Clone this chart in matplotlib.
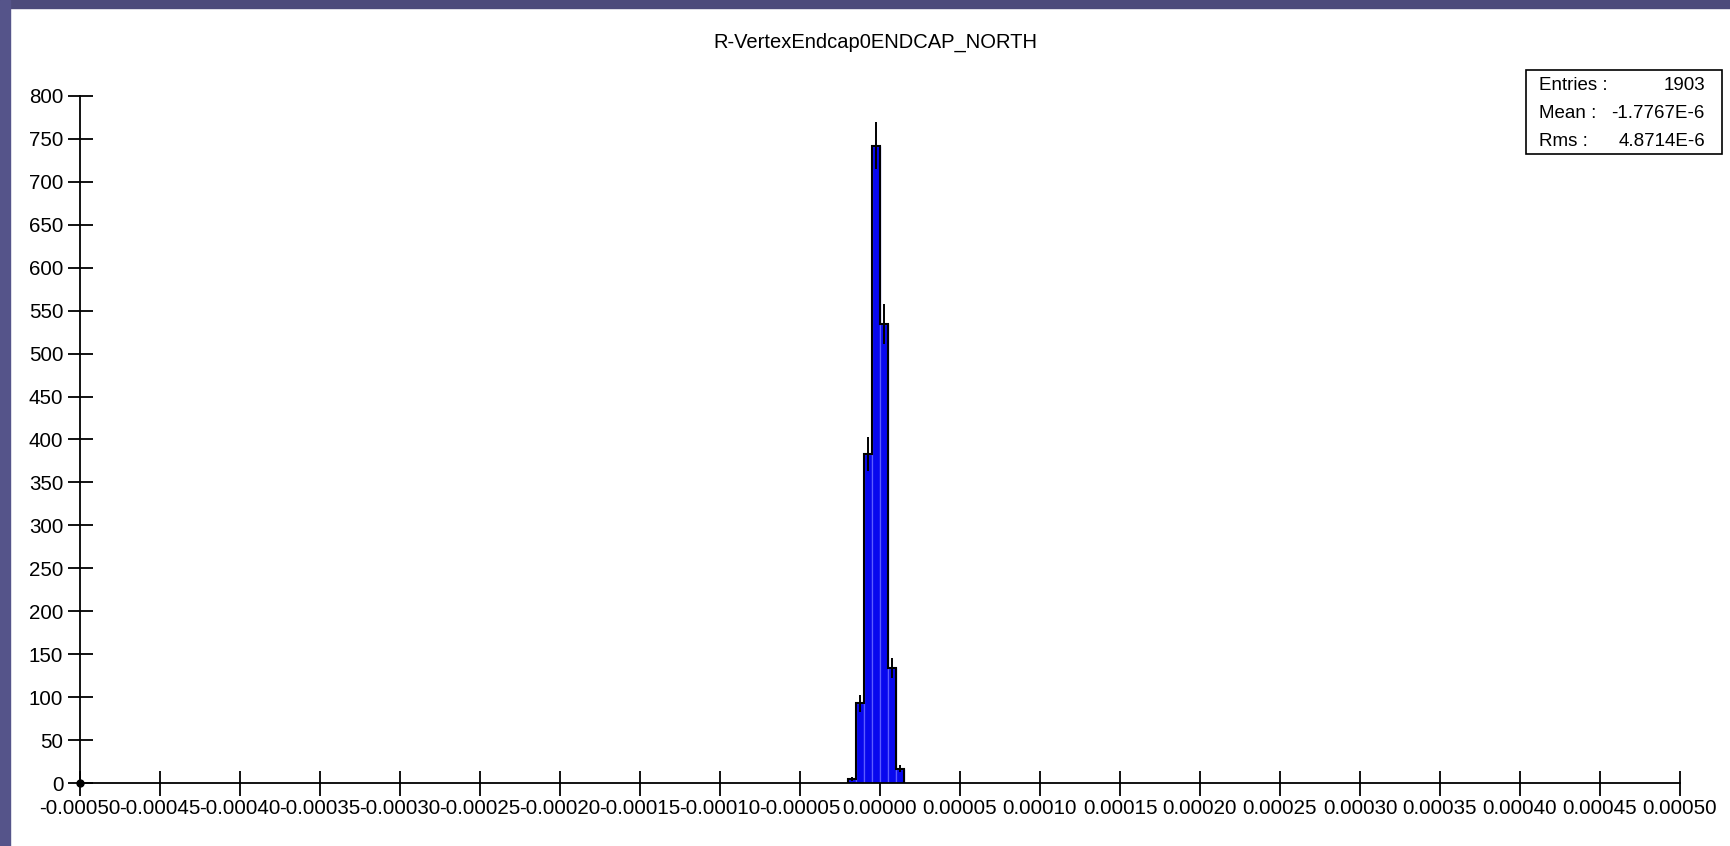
import numpy as np
import matplotlib
matplotlib.use("Agg")
import matplotlib.pyplot as plt
from matplotlib.patches import Rectangle

plt.rcParams['font.family'] = ['Liberation Sans', 'DejaVu Sans']

# histogram contents (bin width 5e-6, only filled bins listed)
title = "R-VertexEndcap0ENDCAP_NORTH"
bin_edges = [-20e-6, -15e-6, -10e-6, -5e-6, 0.0, 5e-6, 10e-6, 15e-6]
counts = [5, 93, 383, 742, 534, 134, 17]
stats_names = ["Entries :", "Mean :", "Rms :"]
stats_values = ["1903", "-1.7767E-6", "4.8714E-6"]

x_ticks = [i * 0.00005 for i in range(-10, 11)]
y_ticks = list(range(0, 801, 50))

W, H = 1731, 846
fig = plt.figure(figsize=(W / 100, H / 100), dpi=100)
fig.patch.set_facecolor("white")

# slide background strips along top and left edge
band = "#4d4b7b"
fig.patches.append(Rectangle((0, 1 - 8 / H), 1, 8 / H, transform=fig.transFigure,
                             color=band, zorder=0))
fig.patches.append(Rectangle((0, 0), 10 / W, 1, transform=fig.transFigure,
                             color="#55548a", zorder=0))

ax = fig.add_axes([80 / W, (H - 783.3) / H, 1600 / W, (783.3 - 95.7) / H])
ax.set_xlim(-0.0005, 0.0005)
ax.set_ylim(0, 800)
ax.spines['top'].set_visible(False)
ax.spines['right'].set_visible(False)
for s in ('left', 'bottom'):
    ax.spines[s].set_linewidth(1.3)

edges = np.array(bin_edges)
vals = np.array(counts, dtype=float)
widths = np.diff(edges)
centers = edges[:-1] + widths / 2

ax.bar(edges[:-1], vals, width=widths, align='edge', color="#0808ee",
       edgecolor="#5c5cff", linewidth=0.9, zorder=2)
ax.stairs(vals, edges, baseline=0, color="black", linewidth=1.5, zorder=3)
ax.errorbar(centers, vals, yerr=np.sqrt(vals), fmt='none', ecolor="black",
            elinewidth=1.4, capsize=0, zorder=4)
ax.plot([-0.0005], [0], 'o', color="black", ms=5, clip_on=False, zorder=5)

ax.set_xticks(x_ticks)
ax.set_xticklabels([f"{v:.5f}" for v in x_ticks])
ax.set_yticks(y_ticks)
ax.set_yticklabels([str(v) for v in y_ticks])
ax.tick_params(direction='inout', length=18, width=1.3, labelsize=14.8,
               colors="black", pad=2)
ax.tick_params(axis='y', pad=3)

fig.text(875 / W, 1 - 42 / H, title, ha='center', va='center', fontsize=14.5)

# statistics box
bx0, bx1, by0, by1 = 1526, 1721.7, 70, 154.3
fig.patches.append(Rectangle((bx0 / W, 1 - by1 / H), (bx1 - bx0) / W, (by1 - by0) / H,
                             transform=fig.transFigure, facecolor="white",
                             edgecolor="black", linewidth=1.2, zorder=3))
for i, (name, val) in enumerate(zip(stats_names, stats_values)):
    yc = 1 - (85 + 28.3 * i) / H
    fig.text(1539 / W, yc, name, ha='left', va='center', fontsize=13.5, zorder=4)
    fig.text(1705 / W, yc, val, ha='right', va='center', fontsize=13.5, zorder=4)

fig.savefig("out.png", dpi=100)
